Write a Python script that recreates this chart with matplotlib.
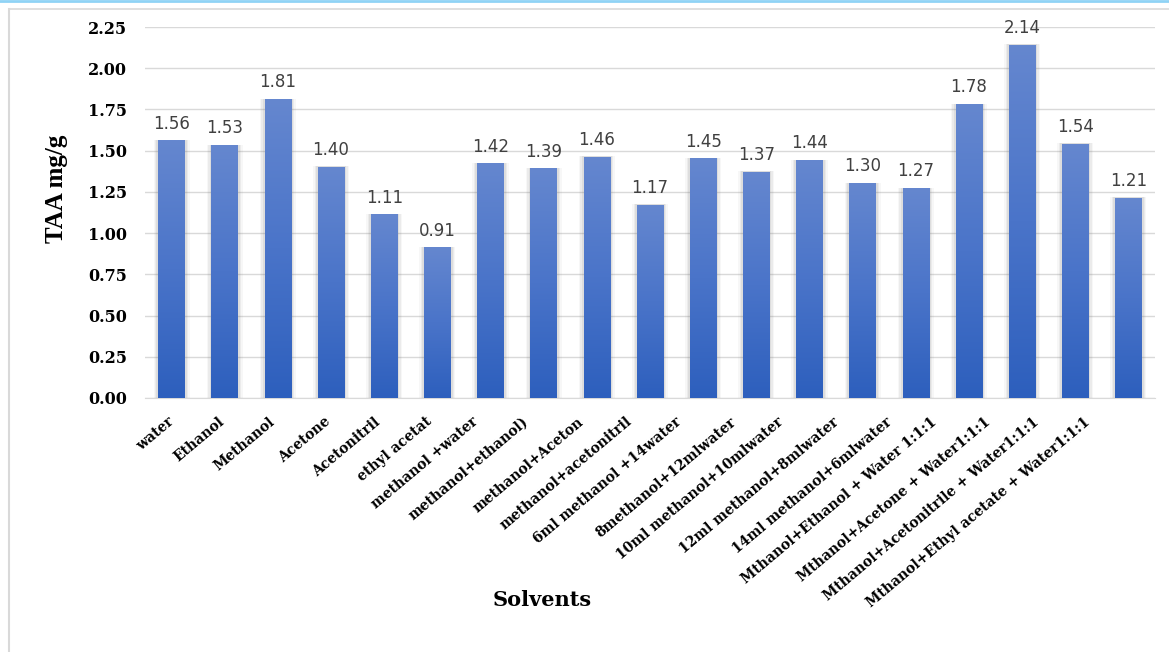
import numpy as np
import matplotlib.pyplot as plt
from matplotlib.lines import Line2D
from matplotlib.colors import LinearSegmentedColormap
from matplotlib.transforms import Affine2D

solvents = ["water", "Ethanol", "Methanol", "Acetone", "Acetonitril", "ethyl acetat",
            "methanol +water", "methanol+ethanol)", "methanol+Aceton", "methanol+acetonitril",
            "6ml methanol +14water", "8methanol+12mlwater", "10ml methanol+10mlwater",
            "12ml methanol+8mlwater", "14ml methanol+6mlwater", "Mthanol+Ethanol + Water 1:1:1",
            "Mthanol+Acetone + Water1:1:1", "Mthanol+Acetonitrile + Water1:1:1",
            "Mthanol+Ethyl acetate + Water1:1:1"]
taa = [1.56, 1.53, 1.81, 1.40, 1.11, 0.91, 1.42, 1.39, 1.46, 1.17,
       1.45, 1.37, 1.44, 1.30, 1.27, 1.78, 2.14, 1.54, 1.21]
yticks = [0.0, 0.25, 0.5, 0.75, 1.0, 1.25, 1.5, 1.75, 2.0, 2.25]

serif = "DejaVu Serif"
fig = plt.figure(figsize=(11.69, 6.52), dpi=100)
ax = fig.add_axes([145 / 1169, 1 - 398 / 652, 1010 / 1169, 371 / 652])

# blue gradient, lighter at the top of each bar
cmap = LinearSegmentedColormap.from_list("bar", ["#2d5fbd", "#4a74c9", "#6587cf"])
grad = np.linspace(0, 1, 256).reshape(-1, 1)
w = 0.5
x = np.arange(len(solvents))
for i, v in zip(x, taa):
    # soft shadow around the bar
    for k, a in [(0.09, 0.06), (0.06, 0.09), (0.035, 0.12)]:
        ax.bar(i, v + 0.012, width=w + 2 * k, bottom=-0.006, color="#7a7a7a", alpha=a,
               linewidth=0, zorder=2)
    ax.imshow(grad, extent=(i - w / 2, i + w / 2, 0, v), origin="lower", cmap=cmap,
              aspect="auto", zorder=3, interpolation="bilinear")
    ax.text(i, v + 0.05, f"{v:.2f}", ha="center", va="bottom", fontsize=12,
            color="#404040", family="DejaVu Sans", zorder=4)

ax.set_xlim(-0.5, len(solvents) - 0.5)
ax.set_ylim(0, 2.25)
ax.set_yticks(yticks)
ax.set_yticklabels([f"{t:.2f}" for t in yticks], fontsize=11.5, fontweight="bold", family=serif)
ax.set_xticks(x)
ax.set_xticklabels([])
ax.tick_params(length=0)
ax.tick_params(axis="y", pad=13)
ax.grid(axis="y", color="#d9d9d9", linewidth=1)
ax.set_axisbelow(True)
for s in ["top", "right", "left"]:
    ax.spines[s].set_visible(False)
ax.spines["bottom"].set_color("#d9d9d9")

# slanted category labels; longer ones sit further left of their bar
cat_labels = []
for i, name in enumerate(solvents):
    t = ax.text(i, 0, name, transform=ax.get_xaxis_transform(), rotation=40,
                rotation_mode="anchor", ha="right", va="center", fontsize=10,
                fontweight="bold", family=serif)
    cat_labels.append(t)
fig.canvas.draw()
renderer = fig.canvas.get_renderer()
for t in cat_labels:
    wpx = t.get_window_extent(renderer).width
    t.set_transform(t.get_transform() + Affine2D().translate(10 - 0.22 * wpx, -22))

fig.text(57 / 1169, 1 - 189 / 652, "TAA mg/g", rotation=90, ha="center", va="center",
         fontsize=18, fontweight="bold", family="Liberation Serif")
fig.text(542 / 1169, 1 - 600 / 652, "Solvents", ha="center", va="center",
         fontsize=15, fontweight="bold", family=serif)

# frame lines
fig.add_artist(Line2D([0, 1], [1 - 1 / 652, 1 - 1 / 652], transform=fig.transFigure,
                      color="#8fd3f5", linewidth=2))
fig.add_artist(Line2D([8.5 / 1169, 1], [1 - 8.5 / 652, 1 - 8.5 / 652], transform=fig.transFigure,
                      color="#d9d9d9", linewidth=1.2))
fig.add_artist(Line2D([8.5 / 1169, 8.5 / 1169], [0, 1 - 8.5 / 652], transform=fig.transFigure,
                      color="#d9d9d9", linewidth=1.5))

fig.savefig("out.png", dpi=100)
